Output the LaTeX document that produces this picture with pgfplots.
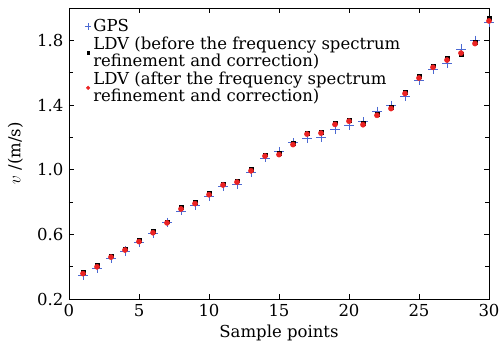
\documentclass[border=0pt]{standalone}
\usepackage{pgfplots}
\pgfplotsset{compat=1.18}
\usepackage{fontspec}
\setmainfont{DejaVu Serif}
\definecolor{gpsblue}{RGB}{75,105,210}
\definecolor{ldvred}{RGB}{235,35,35}
\begin{document}
\fontsize{16.5}{19}\selectfont
\begin{tikzpicture}
\begin{axis}[
  scale only axis,
  width=420pt, height=291pt,
  xmin=0, xmax=30, ymin=0.2, ymax=2.0,
  xtick={0,5,...,30},
  ytick={0.2,0.6,1.0,1.4,1.8},
  minor ytick={0.4,0.8,1.2,1.6},
  yticklabel style={/pgf/number format/fixed,/pgf/number format/fixed zerofill,/pgf/number format/precision=1},
  /pgf/number format/assume math mode=true,
  tick align=inside,
  major tick length=5pt, minor tick length=4pt,
  tick style={black, line width=0.6pt},
  axis line style={line width=0.8pt},
  xlabel={Sample points},
  ylabel={$v$ /(m/s)},
  xlabel style={yshift=3pt},
  ylabel style={yshift=3pt},
  ticklabel style={font=\fontsize{16.5}{19}\selectfont},
  label style={font=\fontsize{16.5}{19}\selectfont},
  legend style={draw=none, fill=none, at={(0.035,0.973)}, anchor=north west,
    font=\fontsize{16.5}{17}\selectfont, cells={align=left, anchor=west},
    row sep=-1pt, inner sep=1pt},
  legend cell align=left,
  legend image post style={scale=0.7},
]
\addplot[only marks, mark=+, mark size=4.6pt, gpsblue, mark options={line width=0.7pt}] coordinates {
(1,0.345)(2,0.388)(3,0.449)(4,0.497)(5,0.550)(6,0.607)(7,0.675)(8,0.745)(9,0.780)(10,0.837)
(11,0.898)(12,0.909)(13,0.983)(14,1.073)(15,1.112)(16,1.167)(17,1.192)(18,1.202)(19,1.251)(20,1.276)
(21,1.296)(22,1.362)(23,1.399)(24,1.456)(25,1.551)(26,1.618)(27,1.660)(28,1.746)(29,1.800)(30,1.910)
};
\addlegendentry{GPS}
\addplot[only marks, mark=square*, mark size=1.9pt, black] coordinates {
(1,0.366)(2,0.408)(3,0.468)(4,0.511)(5,0.563)(6,0.618)(7,0.678)(8,0.767)(9,0.798)(10,0.853)
(11,0.913)(12,0.932)(13,1.001)(14,1.093)(15,1.101)(16,1.163)(17,1.228)(18,1.234)(19,1.290)(20,1.308)
(21,1.286)(22,1.345)(23,1.386)(24,1.480)(25,1.578)(26,1.643)(27,1.688)(28,1.712)(29,1.790)(30,1.935)
};
\addlegendentry{LDV (before the frequency spectrum\\refinement and correction)}
\addplot[only marks, mark=*, mark size=2.6pt, ldvred] coordinates {
(1,0.357)(2,0.399)(3,0.459)(4,0.503)(5,0.555)(6,0.610)(7,0.671)(8,0.757)(9,0.790)(10,0.845)
(11,0.905)(12,0.923)(13,0.993)(14,1.084)(15,1.093)(16,1.155)(17,1.220)(18,1.226)(19,1.280)(20,1.300)
(21,1.278)(22,1.336)(23,1.378)(24,1.471)(25,1.567)(26,1.633)(27,1.678)(28,1.721)(29,1.780)(30,1.920)
};
\addlegendentry{LDV (after the frequency spectrum\\refinement and correction)}
\end{axis}
\pgfresetboundingbox
\path[use as bounding box] ([shift={(-69pt,-45pt)}]current axis.south west) rectangle ([shift={(12pt,8pt)}]current axis.north east);
\end{tikzpicture}
\end{document}
